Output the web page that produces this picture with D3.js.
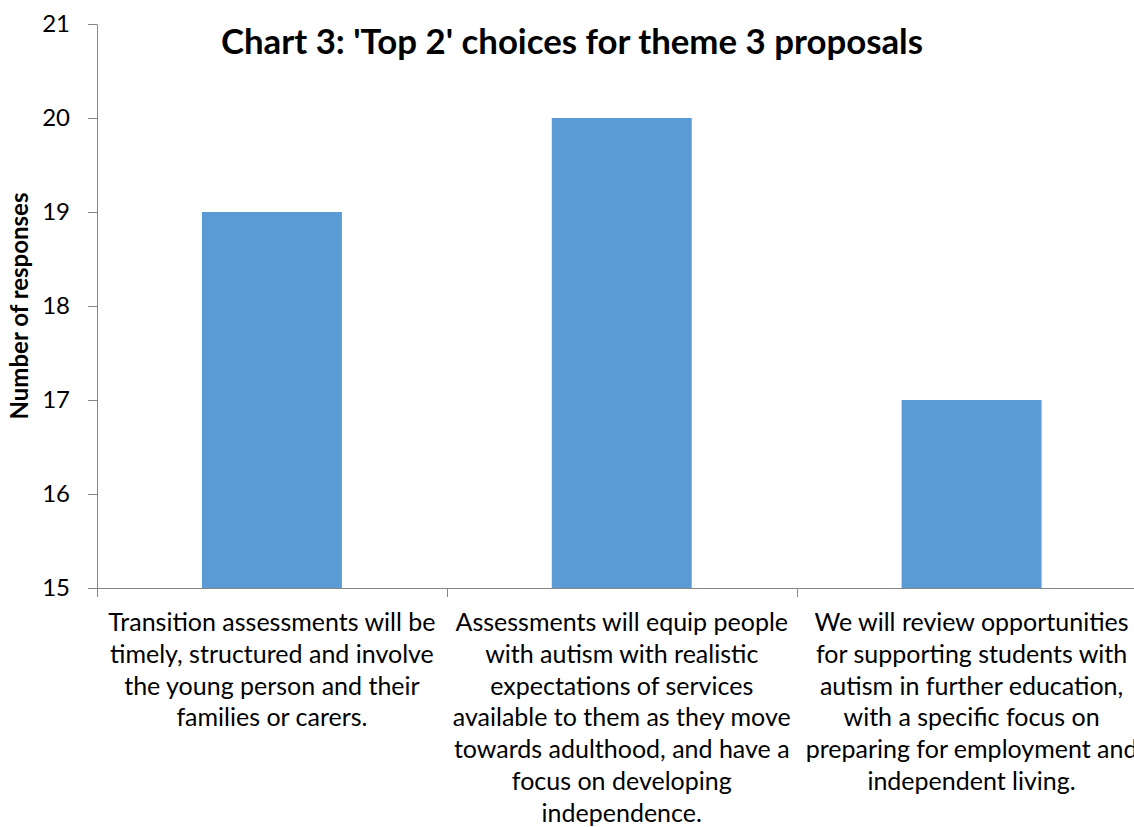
<!DOCTYPE html>
<html><head><meta charset="utf-8">
<script src="https://cdn.jsdelivr.net/npm/d3@7"></script>
<style>body{margin:0;background:#fff}svg{display:block}text{font-family:Lato,"Open Sans",sans-serif;fill:#000}</style>
</head><body>
<svg id="c" width="1134" height="827"></svg>
<script>
const categories = [
  "Transition assessments will be timely, structured and involve the young person and their families or carers.",
  "Assessments will equip people with autism with realistic expectations of services available to them as they move towards adulthood, and have a focus on developing independence.",
  "We will review opportunities for supporting students with autism in further education, with a specific focus on preparing for employment and independent living."
];
const labelLines = [
  ["Transition assessments will be","timely, structured and involve","the young person and their","families or carers."],
  ["Assessments will equip people","with autism with realistic","expectations of services","available to them as they move","towards adulthood, and have a","focus on developing","independence."],
  ["We will review opportunities","for supporting students with","autism in further education,","with a specific focus on","preparing for employment and","independent living."]
];
const values = [19, 20, 17];
const yTicks = [15, 16, 17, 18, 19, 20, 21];
const title = "Chart 3: 'Top 2' choices for theme 3 proposals";
const yTitle = "Number of responses";

(function(){
const svg = d3.select("#c");
const pL = 97, pR = 1146.5, pT = 24, pB = 588;
const axisColor = "#868686";

const y = d3.scaleLinear().domain([15, 21]).range([pB, pT]);
const x = d3.scaleBand().domain(categories).range([pL, pR]).paddingInner(0.6).paddingOuter(0.3);
const step = x.step();

// bars
svg.append("g").selectAll("rect").data(values).join("rect")
  .attr("x", (d, i) => x(categories[i]))
  .attr("width", x.bandwidth())
  .attr("y", d => y(d))
  .attr("height", d => y(15) - y(d))
  .attr("fill", "#5B9BD5");

// y axis
const yAxis = svg.append("g").attr("transform", `translate(${pL},0)`)
  .call(d3.axisLeft(y).tickValues(yTicks).tickFormat(d3.format("d")).tickSizeInner(9).tickSizeOuter(0).tickPadding(18));
yAxis.select(".domain").attr("stroke", axisColor);
yAxis.selectAll(".tick line").attr("stroke", axisColor);
yAxis.selectAll(".tick text").style("font-size", "24px").attr("fill", "#000");

// x axis baseline
svg.append("line").attr("x1", pL).attr("x2", pR).attr("y1", pB + 0.5).attr("y2", pB + 0.5).attr("stroke", axisColor);
// category boundary ticks
const bounds = d3.range(categories.length + 1).map(i => pL + i * step);
svg.append("g").selectAll("line").data(bounds).join("line")
  .attr("x1", d => Math.round(d) + 0.5).attr("x2", d => Math.round(d) + 0.5)
  .attr("y1", pB).attr("y2", pB + 9).attr("stroke", axisColor);

// category labels
const lh = 31.8;
categories.forEach((c, i) => {
  const cx = x(c) + x.bandwidth() / 2;
  const t = svg.append("text").attr("text-anchor", "middle").style("font-size", "25px");
  labelLines[i].forEach((ln, j) => {
    t.append("tspan").attr("x", cx).attr("y", 631 + j * lh).text(ln);
  });
});

// title
svg.append("text").attr("x", 572).attr("y", 54).attr("text-anchor", "middle")
  .style("font-size", "34.8px").style("font-weight", "bold").text(title);

// y title
svg.append("text").attr("transform", `translate(28,${(pT + pB) / 2}) rotate(-90)`)
  .attr("text-anchor", "middle").style("font-size", "24px").style("font-weight", "bold").text(yTitle);
})();
</script>
</body></html>
